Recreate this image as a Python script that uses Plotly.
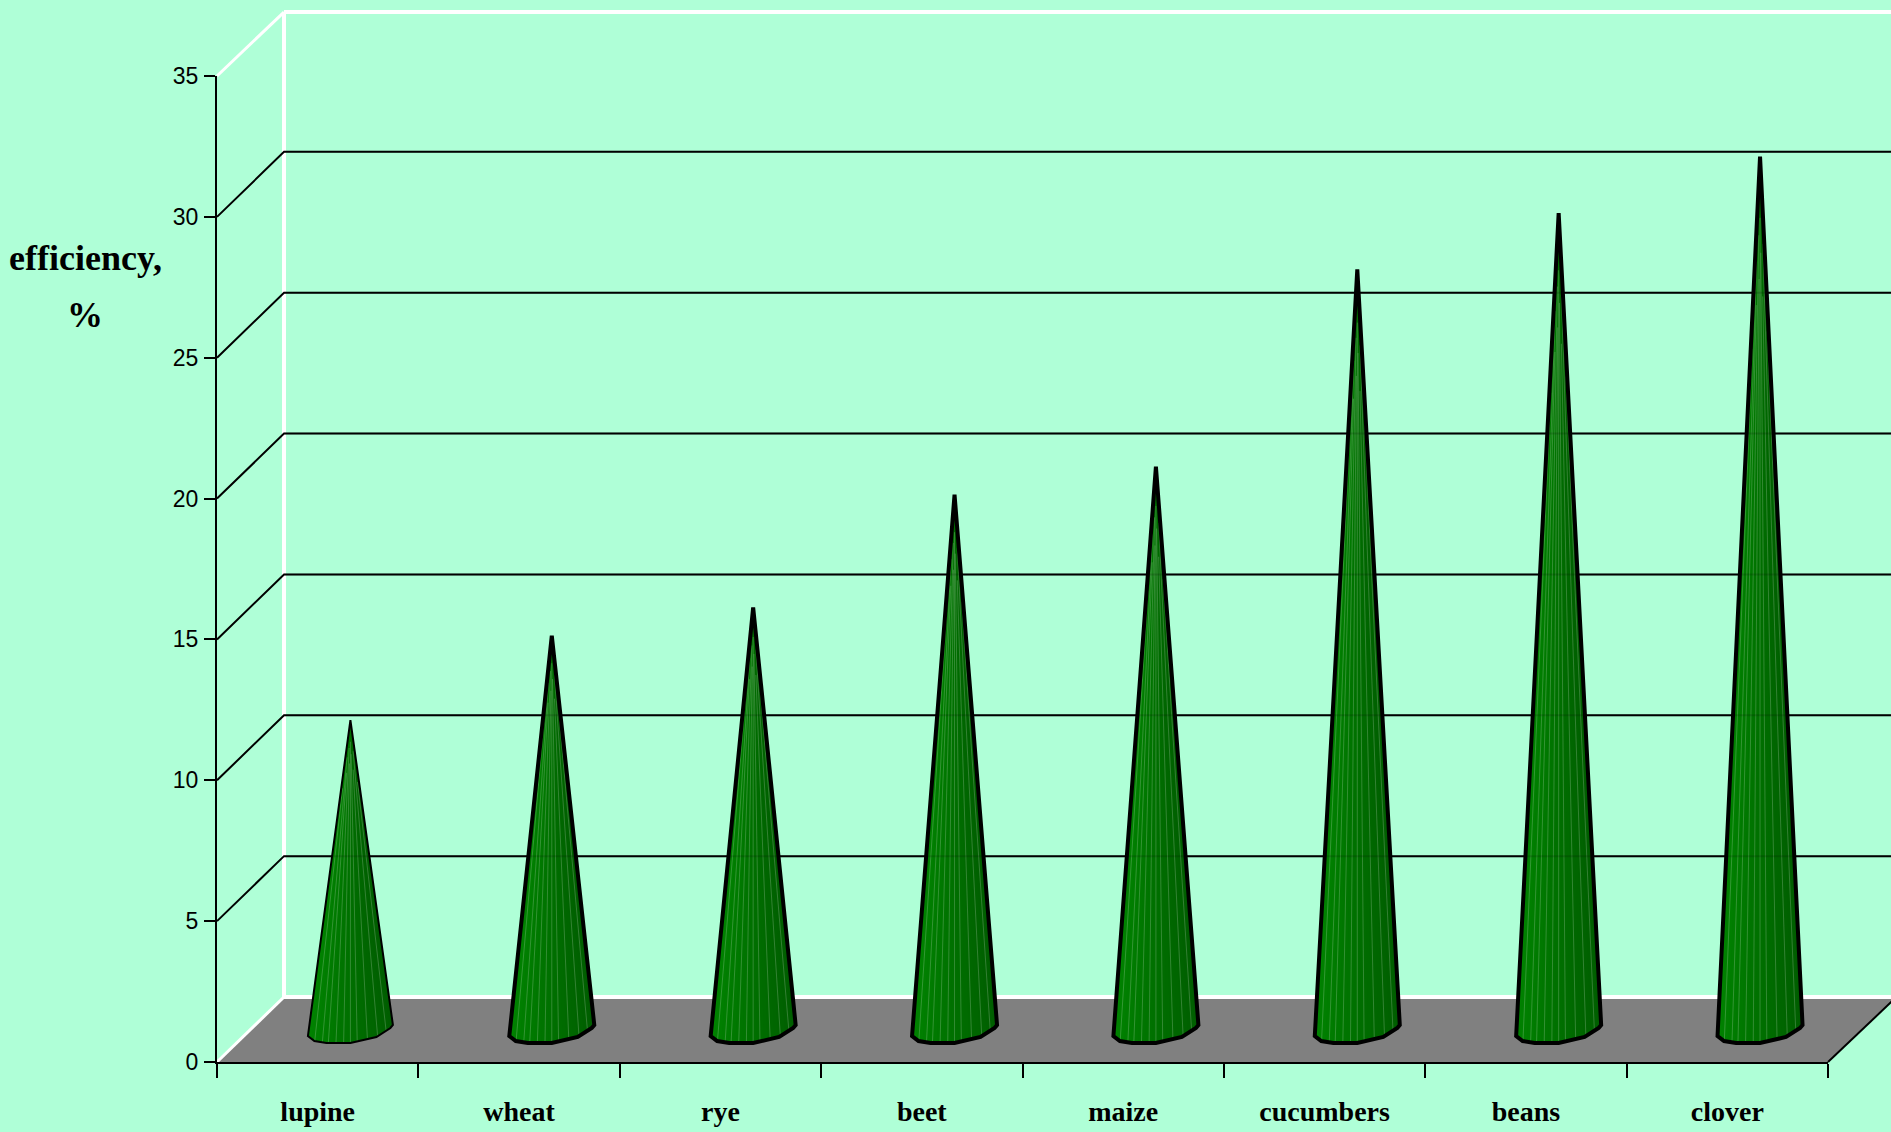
import numpy as np
import plotly.graph_objects as go

categories = ["lupine", "wheat", "rye", "beet", "maize", "cucumbers", "beans", "clover"]
efficiency = [11, 14, 15, 19, 20, 27, 29, 31]
y_ticks = [0, 5, 10, 15, 20, 25, 30, 35]
grid_values = [5, 10, 15, 20, 25, 30]

BG = "#AFFFD7"
W, H = 1891, 1132
ML, MR, MT, MB = 217, 63, 76, 70
UX = (W - ML - MR) / 8          # px per category
UY = (H - MT - MB) / 35         # px per value unit
DX = 67 / UX                    # depth offset of the back wall
DY = 65 / UY
XEND = 8.4
TOP = 37.27
CX = 0.6625                     # cone centre inside its category
CY = 32 / UY                    # cone axis foot above the front floor edge

# Cone foot outline, px relative to the cone centre / foot point
foot_dx = np.array([-42.5, -36, -24, 0, 26, 40, 42.5])
foot_dy = np.array([-6, -11, -13, -13, -7, 2, 5])

fig = go.Figure()


def line(x, y, color="black", width=2):
    fig.add_trace(go.Scatter(x=x, y=y, mode="lines", line=dict(color=color, width=width),
                             hoverinfo="skip", showlegend=False, xaxis="x", yaxis="y"))


def poly(x, y, color):
    fig.add_trace(go.Scatter(x=x, y=y, mode="lines", fill="toself", fillcolor=color,
                             line=dict(color=color, width=0), hoverinfo="skip",
                             showlegend=False, xaxis="x", yaxis="y"))


# floor
poly([0, 8, 8 + DX, DX, 0], [0, 0, DY - 0.05, DY - 0.05, 0], "#808080")
# walls
line([DX, DX], [DY, TOP], "white", 4)
line([DX, XEND], [TOP, TOP], "white", 4)
line([0, DX], [35, TOP], "white", 3)
line([0, DX], [0, DY], "white", 3)
line([DX, XEND], [DY, DY], "white", 4)
line([8, 8 + DX], [0, DY - 0.05], "black", 2)
# grid
for g in grid_values:
    line([0, DX, XEND], [g, g + DY, g + DY], "black", 2)

# cones
N = 24
STRIPES = [0.08, 0.17, 0.24, 0.33, 0.42, 0.5, 0.58, 0.7, 0.82, 0.92]
STARTS = [0.22, 0.12, 0.17, 0.09, 0.14, 0.07, 0.11, 0.16, 0.10, 0.2]
strip_x = {k: [] for k in range(N)}
strip_y = {k: [] for k in range(N)}
for i, v in enumerate(efficiency):
    cx = i + CX
    full_x = [cx] + list(cx + foot_dx / UX) + [cx]
    full_y = [CY + v] + list(CY + foot_dy / UY) + [CY + v]
    poly(full_x, full_y, "#006F00")
    for k in range(N):
        a = -42.5 + 85 * k / N
        b = min(-42.5 + 85 * (k + 1.15) / N, 42.5)
        pts = np.linspace(a, b, 3)
        ys = np.interp(pts, foot_dx, foot_dy)
        strip_x[k] += [cx] + list(cx + pts / UX) + [cx, None]
        strip_y[k] += [CY + v] + list(CY + ys / UY) + [CY + v, None]

for k in range(N):
    t = k / (N - 1)
    g = int(round(130 - 36 * t))
    poly(strip_x[k], strip_y[k], f"rgb(0,{g},0)")

stripe_x, stripe_y = [], []
for i, v in enumerate(efficiency):
    cx = i + CX
    for s, start in zip(STRIPES, STARTS):
        d = -42.5 + 85 * s
        fd = float(np.interp(d, foot_dx, foot_dy))
        stripe_x += [cx + d * start / UX, cx + d / UX, None]
        stripe_y += [CY + v * (1 - start), CY + fd / UY, None]
line(stripe_x, stripe_y, "rgba(255,255,255,0.2)", 1)

# gridlines showing faintly through the cones
for g in grid_values:
    line([DX, XEND], [g + DY, g + DY], "rgba(0,0,0,0.15)", 2)

# outlines
for i, v in enumerate(efficiency):
    cx = i + CX
    x = [cx] + list(cx + foot_dx / UX) + [cx]
    y = [CY + v] + list(CY + foot_dy / UY) + [CY + v]
    line(x, y, "black", 2 if i == 0 else 4)

# visible axes: an invisible data trace ties them to the values
fig.add_trace(go.Scatter(x=[i + 0.5 for i in range(8)], y=efficiency, mode="markers",
                         marker=dict(opacity=0), hoverinfo="skip", showlegend=False,
                         xaxis="x2", yaxis="y2"))

label_font = dict(family="Liberation Serif", size=28, color="black")
fig.update_layout(
    width=W, height=H, autosize=False,
    margin=dict(l=0, r=0, t=0, b=0, pad=0, autoexpand=False),
    paper_bgcolor=BG, plot_bgcolor="rgba(0,0,0,0)", showlegend=False,
    xaxis=dict(range=[-ML / UX, (W - ML) / UX], domain=[0, 1], visible=False,
               fixedrange=True, automargin=False),
    yaxis=dict(range=[-MB / UY, (H - MB) / UY], domain=[0, 1], visible=False,
               fixedrange=True, automargin=False),
    xaxis2=dict(
        domain=[ML / W, (W - MR) / W], anchor="y2", automargin=False,
        range=[0, 8], showgrid=False, zeroline=False, showline=True,
        linecolor="black", linewidth=2,
        tickmode="array", tickvals=[i + 0.5 for i in range(8)],
        ticktext=[f"<b>{c}</b>" for c in categories],
        ticks="", tickfont=label_font, ticklabelstandoff=23,
        minor=dict(tickmode="array", tickvals=list(range(9)), ticks="outside",
                   ticklen=14, tickwidth=2, tickcolor="black", showgrid=False),
    ),
    yaxis2=dict(
        domain=[MB / H, (H - MT) / H], anchor="x2", automargin=False,
        range=[0, 35], showgrid=False, zeroline=False, showline=True,
        linecolor="black", linewidth=2,
        tickmode="array", tickvals=y_ticks, ticks="outside", ticklen=11, tickwidth=2,
        tickcolor="black", ticklabelstandoff=1,
        tickfont=dict(family="Liberation Sans", size=23, color="black"),
    ),
    annotations=[
        dict(text="<b>efficiency,</b>", xref="paper", yref="paper",
             x=85 / W, y=(H - 258) / H,
             showarrow=False, xanchor="center", yanchor="middle",
             font=dict(family="Liberation Serif", size=36, color="black")),
        dict(text="<b>%</b>", xref="paper", yref="paper",
             x=85 / W, y=(H - 315) / H,
             showarrow=False, xanchor="center", yanchor="middle",
             font=dict(family="Liberation Serif", size=36, color="black")),
    ],
)

fig.write_html("out.html", config=dict(displayModeBar=False),
               post_script="document.body.style.margin='0';")
